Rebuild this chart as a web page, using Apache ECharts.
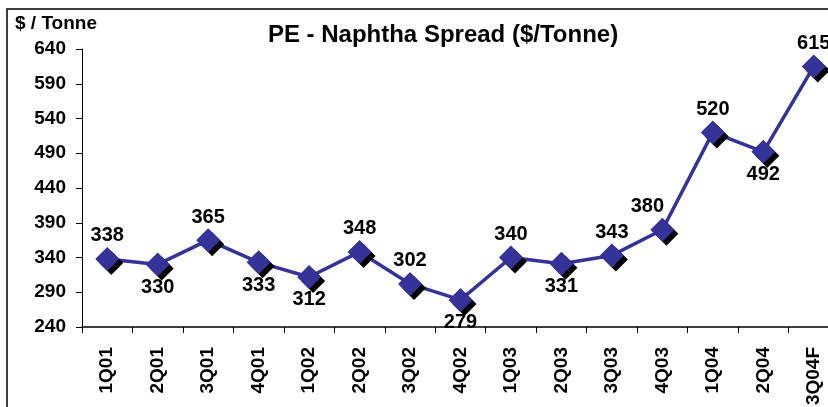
<!DOCTYPE html>
<html>
<head>
<meta charset="utf-8">
<script src="https://cdn.jsdelivr.net/npm/echarts@6/dist/echarts.min.js"></script>
<style>
html, body { margin: 0; padding: 0; background: #fff; }
#chart { width: 828px; height: 407px; }
</style>
</head>
<body>
<div id="chart"></div>
<script>
var quarters = ['1Q01','2Q01','3Q01','4Q01','1Q02','2Q02','3Q02','4Q02','1Q03','2Q03','3Q03','4Q03','1Q04','2Q04','3Q04F'];
var spread = [338, 330, 365, 333, 312, 348, 302, 279, 340, 331, 343, 380, 520, 492, 615];
var labelPos = ['top','bottom','top','bottom','bottom','top','top','bottom','top','bottom','top','top','top','bottom','top'];
var labelShiftX = [0, 0, 0, 0, 0, 0, 0, 0, 0, 0, 0, -15, 0, 0, 0];

var myChart = echarts.init(document.getElementById('chart'));
var font = 'Arial, "Liberation Sans", sans-serif';

var option = {
    animation: false,
    title: {
        text: 'PE - Naphtha Spread ($/Tonne)',
        left: 438,
        top: 18,
        textAlign: 'center',
        textStyle: { fontFamily: font, fontSize: 24, fontWeight: 'bold', color: '#000' }
    },
    graphic: [
        {
            type: 'polyline',
            shape: { points: [[7, 407], [7, 9], [828, 9]] },
            style: { stroke: '#000', lineWidth: 1.5, fill: null }
        },
        {
            type: 'text',
            left: 15,
            top: 14,
            style: { text: '$ / Tonne', font: 'bold 19px ' + font, fill: '#000' }
        }
    ],
    grid: { left: 82, top: 49, width: 757, height: 278, outerBoundsMode: 'none', containLabel: false },
    xAxis: {
        type: 'category',
        data: quarters,
        boundaryGap: true,
        axisLine: { lineStyle: { color: '#000', width: 1.5 } },
        axisTick: { show: true, length: 6, lineStyle: { color: '#000' } },
        axisLabel: {
            rotate: 90,
            interval: 0,
            margin: 20,
            color: '#000',
            fontFamily: font,
            fontSize: 19,
            fontWeight: 'bold'
        }
    },
    yAxis: {
        type: 'value',
        min: 240,
        max: 640,
        interval: 50,
        splitLine: { show: false },
        axisLine: { show: true, lineStyle: { color: '#000', width: 1 } },
        axisTick: { show: true, length: 6, lineStyle: { color: '#000' } },
        axisLabel: {
            margin: 16,
            color: '#000',
            fontFamily: font,
            fontSize: 19,
            fontWeight: 'bold'
        }
    },
    series: [{
        type: 'line',
        data: spread.map(function (v, i) {
            return { value: v, label: { position: labelPos[i], offset: [labelShiftX[i], 0] } };
        }),
        symbol: 'diamond',
        symbolSize: 24,
        lineStyle: { color: '#333399', width: 3.5 },
        itemStyle: {
            color: '#333399',
            shadowColor: '#000',
            shadowBlur: 0,
            shadowOffsetX: 4,
            shadowOffsetY: 4
        },
        label: {
            show: true,
            distance: 1,
            color: '#000',
            fontFamily: font,
            fontSize: 20,
            fontWeight: 'bold'
        }
    }]
};
myChart.setOption(option);
</script>
</body>
</html>
